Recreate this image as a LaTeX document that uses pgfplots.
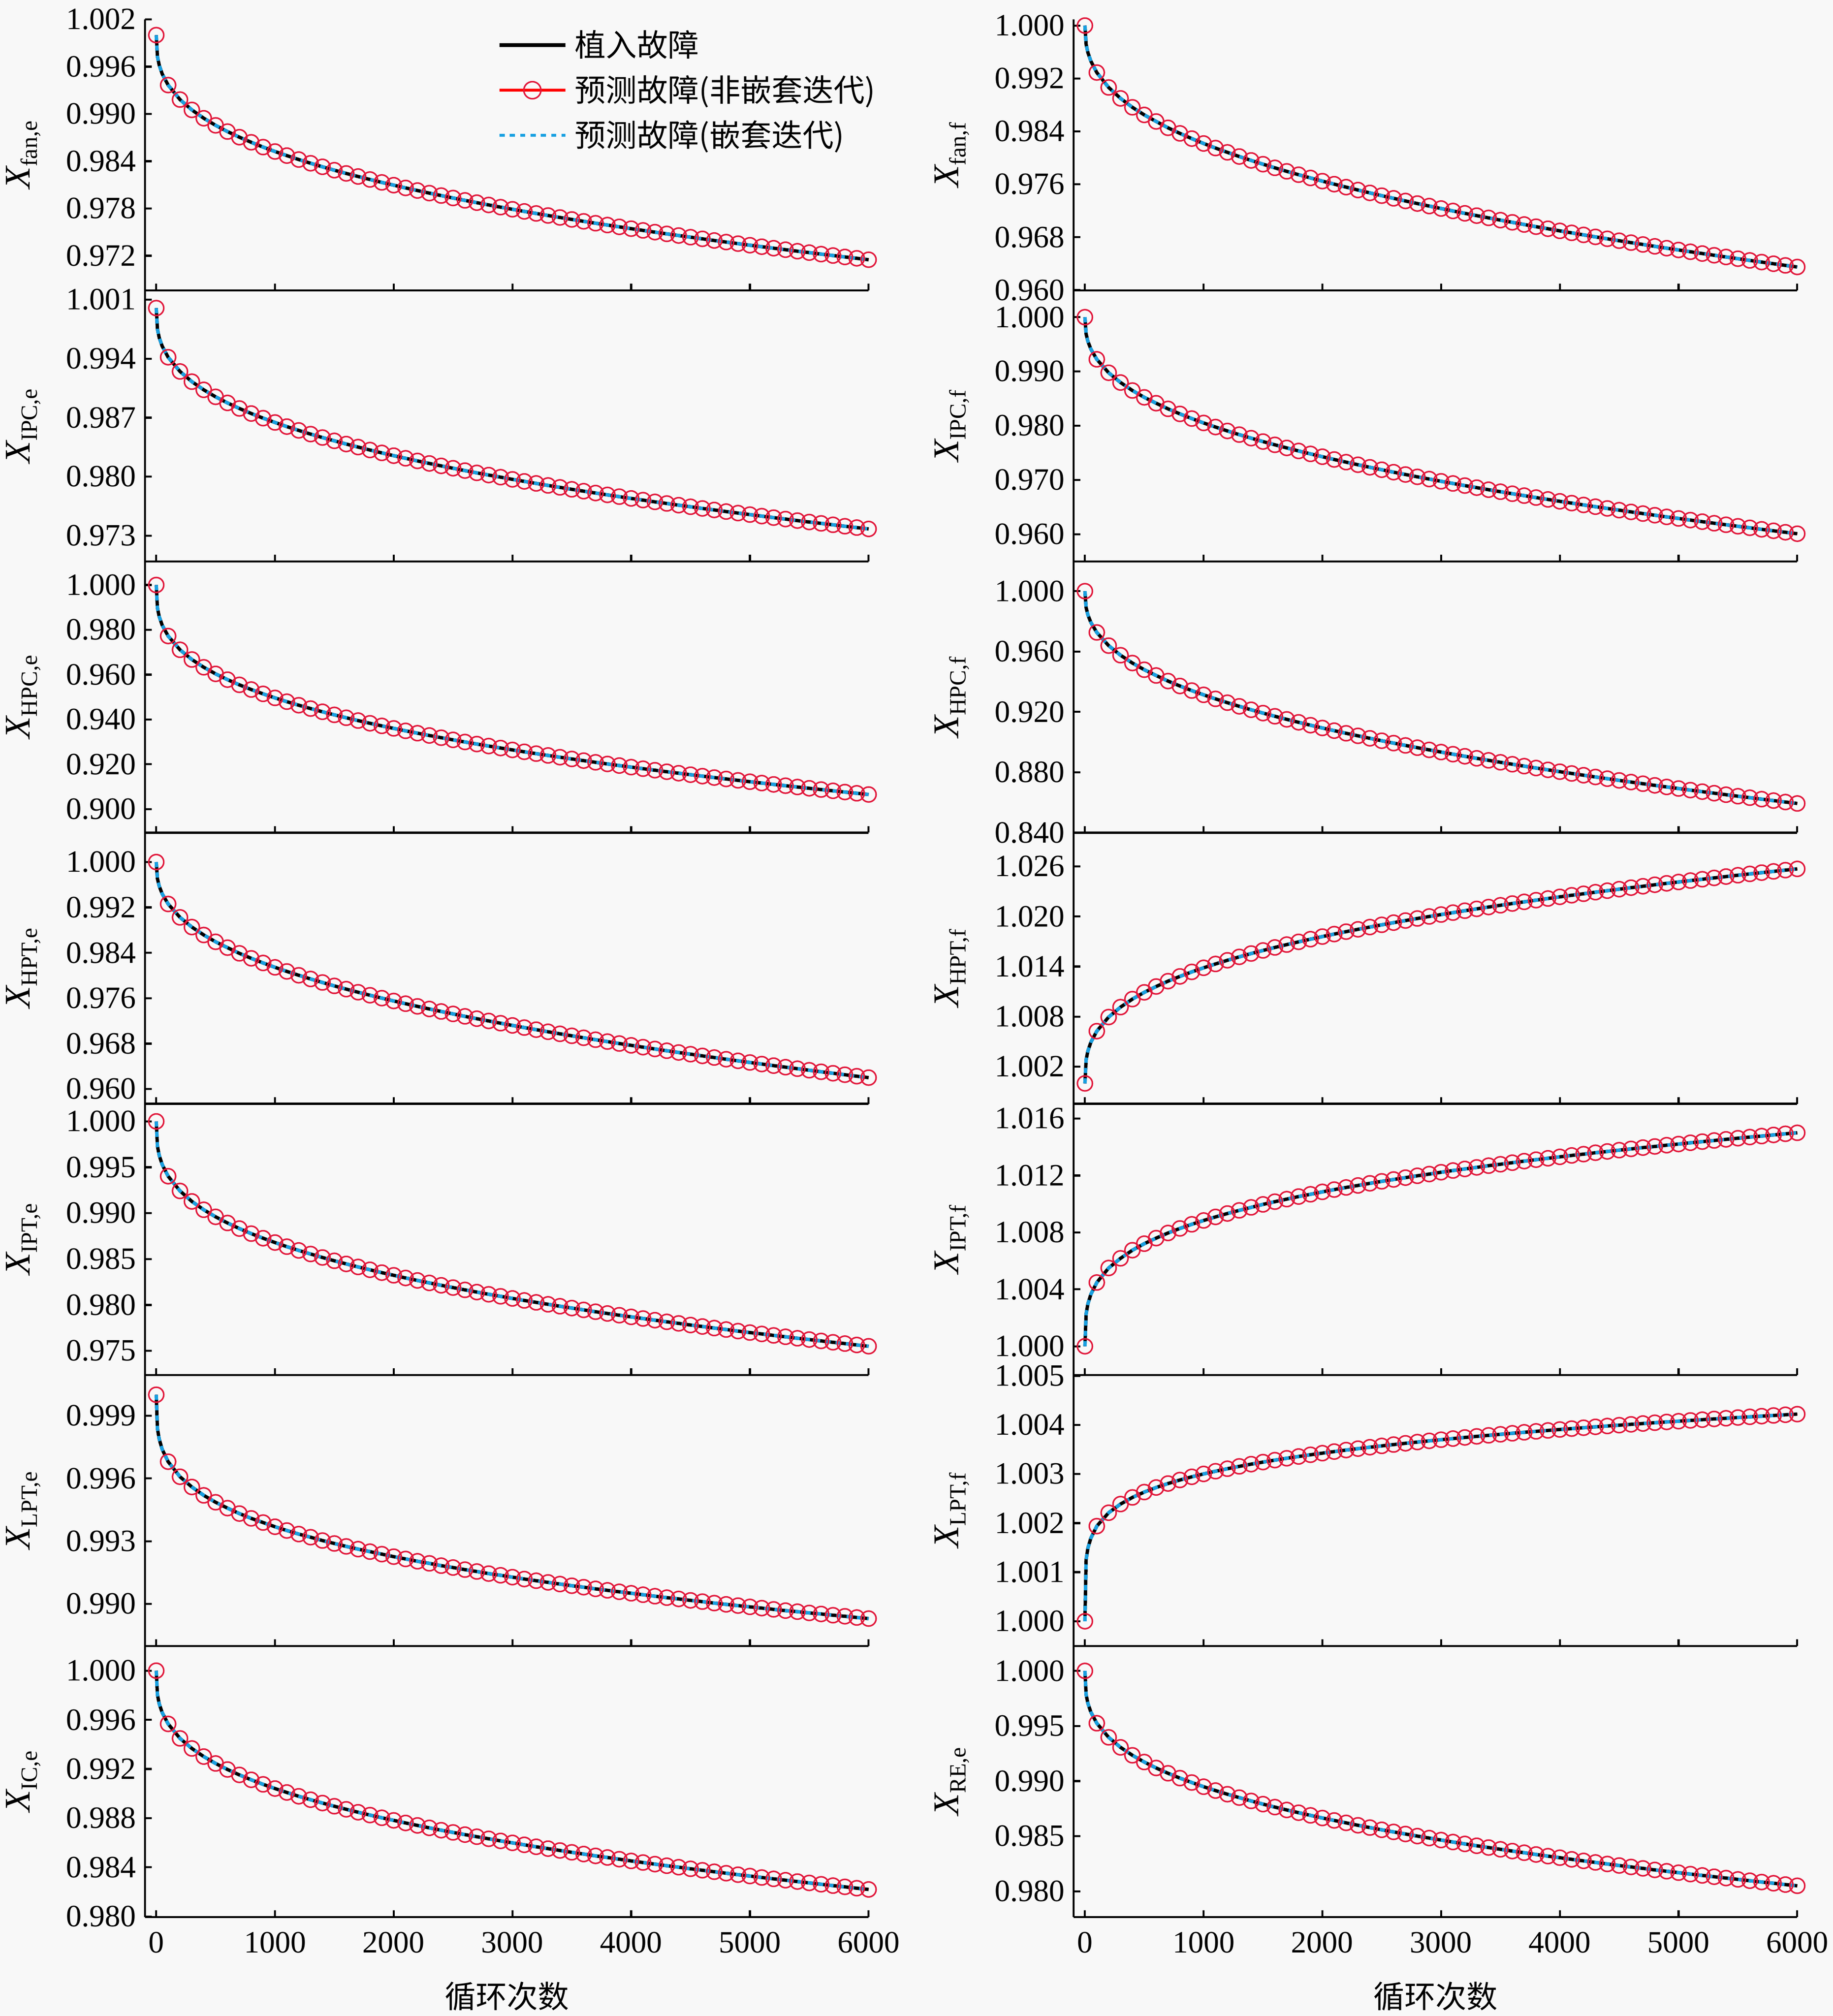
\documentclass[border=0pt]{standalone}
\usepackage{fontspec}
\setmainfont{Liberation Serif}
\newfontfamily\cjk{Noto Sans CJK SC}
\usepackage{pgfplots}
\usepackage{pgfplotstable}
\pgfplotsset{compat=1.18}
\definecolor{bg}{RGB}{248,248,248}
\definecolor{mred}{RGB}{225,25,60}
\definecolor{lred}{RGB}{255,0,0}
\definecolor{cyanline}{RGB}{25,160,225}

\pgfplotstableread{
x fe ipce hpce hpte ipte lpte ice ff ipcf hpcf hptf iptf lptf ree
0 1.0 1.0 1.0 1.0 1.0 1.0 1.0 1.0 1.0 1.0 1.0 1.0 1.0 1.0
10 0.99728 0.99750 0.98971 0.99706 0.99730 0.99838 0.99804 0.99717 0.99691 0.98911 1.00283 1.00227 1.001252 0.99785
25 0.99619 0.99649 0.98589 0.99576 0.99630 0.99788 0.99731 0.99592 0.99554 0.98429 1.00388 1.00298 1.001490 0.99706
50 0.99508 0.99548 0.98207 0.99440 0.99530 0.99739 0.99659 0.99462 0.99412 0.97927 1.00493 1.00365 1.001695 0.99626
100 0.99366 0.99417 0.97723 0.99261 0.99403 0.99680 0.99567 0.99290 0.99224 0.97264 1.00626 1.00448 1.001938 0.99525
200 0.99182 0.99248 0.97108 0.99025 0.99242 0.99608 0.99449 0.99064 0.98976 0.96390 1.00795 1.00550 1.002211 0.99397
300 0.99051 0.99127 0.96674 0.98854 0.99128 0.99559 0.99367 0.98899 0.98796 0.95755 1.00914 1.00618 1.002388 0.99306
400 0.98945 0.99030 0.96327 0.98714 0.99037 0.99519 0.99301 0.98764 0.98649 0.95237 1.01010 1.00675 1.002523 0.99234
500 0.98855 0.98947 0.96033 0.98594 0.98960 0.99486 0.99245 0.98649 0.98523 0.94793 1.01091 1.00721 1.002632 0.99173
600 0.98776 0.98875 0.95775 0.98491 0.98893 0.99458 0.99196 0.98550 0.98415 0.94411 1.01161 1.00760 1.002725 0.99119
700 0.98705 0.98809 0.95544 0.98391 0.98832 0.99432 0.99152 0.98454 0.98311 0.94042 1.01225 1.00796 1.002806 0.99071
800 0.98640 0.98749 0.95334 0.98303 0.98777 0.99409 0.99112 0.98370 0.98218 0.93716 1.01282 1.00828 1.002878 0.99027
900 0.98579 0.98694 0.95141 0.98221 0.98727 0.99389 0.99075 0.98291 0.98132 0.93412 1.01336 1.00857 1.002943 0.98987
1000 0.98523 0.98643 0.94961 0.98144 0.98680 0.99369 0.99041 0.98217 0.98051 0.93129 1.01385 1.00884 1.003002 0.98949
1100 0.98471 0.98594 0.94792 0.98072 0.98635 0.99351 0.99009 0.98148 0.97976 0.92862 1.01431 1.00909 1.003057 0.98914
1200 0.98421 0.98549 0.94634 0.98004 0.98594 0.99334 0.98978 0.98083 0.97904 0.92609 1.01475 1.00933 1.003108 0.98881
1300 0.98374 0.98505 0.94484 0.97939 0.98555 0.99319 0.98950 0.98020 0.97836 0.92368 1.01516 1.00955 1.003156 0.98850
1400 0.98329 0.98464 0.94341 0.97877 0.98517 0.99303 0.98923 0.97961 0.97771 0.92139 1.01556 1.00976 1.003201 0.98820
1500 0.98286 0.98425 0.94204 0.97817 0.98481 0.99289 0.98897 0.97904 0.97708 0.91919 1.01593 1.00997 1.003243 0.98791
1600 0.98245 0.98387 0.94074 0.97760 0.98447 0.99275 0.98872 0.97849 0.97648 0.91708 1.01629 1.01016 1.003283 0.98764
1700 0.98206 0.98351 0.93949 0.97705 0.98414 0.99262 0.98848 0.97796 0.97591 0.91504 1.01663 1.01034 1.003321 0.98738
1800 0.98168 0.98316 0.93828 0.97652 0.98383 0.99250 0.98825 0.97745 0.97535 0.91308 1.01696 1.01052 1.003357 0.98713
1900 0.98131 0.98282 0.93712 0.97601 0.98352 0.99238 0.98803 0.97696 0.97481 0.91117 1.01728 1.01068 1.003392 0.98689
2000 0.98096 0.98249 0.93600 0.97551 0.98323 0.99226 0.98782 0.97648 0.97429 0.90933 1.01759 1.01085 1.003425 0.98665
2100 0.98061 0.98218 0.93491 0.97503 0.98294 0.99215 0.98761 0.97602 0.97378 0.90755 1.01789 1.01101 1.003457 0.98643
2200 0.98028 0.98187 0.93386 0.97456 0.98267 0.99204 0.98741 0.97557 0.97329 0.90581 1.01818 1.01116 1.003488 0.98621
2300 0.97995 0.98157 0.93283 0.97410 0.98240 0.99194 0.98721 0.97513 0.97281 0.90412 1.01846 1.01130 1.003517 0.98599
2400 0.97964 0.98128 0.93184 0.97366 0.98214 0.99183 0.98702 0.97470 0.97234 0.90248 1.01873 1.01145 1.003546 0.98578
2500 0.97933 0.98100 0.93087 0.97323 0.98189 0.99174 0.98684 0.97428 0.97189 0.90087 1.01900 1.01159 1.003573 0.98558
2600 0.97903 0.98072 0.92993 0.97280 0.98164 0.99164 0.98666 0.97388 0.97144 0.89930 1.01926 1.01172 1.003600 0.98539
2700 0.97874 0.98045 0.92901 0.97239 0.98140 0.99155 0.98649 0.97348 0.97101 0.89777 1.01951 1.01185 1.003626 0.98520
2800 0.97845 0.98019 0.92812 0.97199 0.98116 0.99145 0.98632 0.97309 0.97058 0.89627 1.01976 1.01198 1.003651 0.98501
2900 0.97817 0.97994 0.92724 0.97159 0.98094 0.99137 0.98615 0.97271 0.97017 0.89481 1.02000 1.01210 1.003676 0.98483
3000 0.97790 0.97968 0.92639 0.97120 0.98071 0.99128 0.98599 0.97234 0.96976 0.89337 1.02023 1.01223 1.003699 0.98465
3100 0.97763 0.97944 0.92555 0.97082 0.98049 0.99119 0.98583 0.97197 0.96936 0.89196 1.02046 1.01235 1.003722 0.98447
3200 0.97737 0.97920 0.92473 0.97045 0.98028 0.99111 0.98567 0.97161 0.96897 0.89058 1.02069 1.01246 1.003745 0.98430
3300 0.97711 0.97896 0.92393 0.97008 0.98007 0.99103 0.98552 0.97126 0.96859 0.88922 1.02091 1.01257 1.003767 0.98413
3400 0.97686 0.97873 0.92314 0.96972 0.97986 0.99095 0.98537 0.97092 0.96821 0.88789 1.02113 1.01269 1.003788 0.98397
3500 0.97661 0.97850 0.92236 0.96937 0.97966 0.99087 0.98522 0.97058 0.96784 0.88659 1.02134 1.01279 1.003809 0.98381
3600 0.97637 0.97828 0.92161 0.96902 0.97946 0.99080 0.98508 0.97025 0.96747 0.88530 1.02155 1.01290 1.003830 0.98365
3700 0.97613 0.97806 0.92086 0.96868 0.97926 0.99072 0.98493 0.96992 0.96712 0.88404 1.02175 1.01301 1.003850 0.98350
3800 0.97590 0.97784 0.92013 0.96835 0.97907 0.99065 0.98480 0.96959 0.96676 0.88279 1.02195 1.01311 1.003869 0.98334
3900 0.97567 0.97763 0.91941 0.96801 0.97888 0.99058 0.98466 0.96928 0.96642 0.88157 1.02215 1.01321 1.003888 0.98319
4000 0.97544 0.97742 0.91871 0.96769 0.97870 0.99051 0.98452 0.96896 0.96607 0.88036 1.02235 1.01331 1.003907 0.98305
4100 0.97522 0.97722 0.91801 0.96737 0.97852 0.99044 0.98439 0.96866 0.96574 0.87918 1.02254 1.01341 1.003925 0.98290
4200 0.97500 0.97701 0.91733 0.96705 0.97834 0.99037 0.98426 0.96835 0.96540 0.87801 1.02272 1.01350 1.003943 0.98276
4300 0.97478 0.97682 0.91665 0.96674 0.97816 0.99030 0.98413 0.96805 0.96508 0.87685 1.02291 1.01360 1.003961 0.98262
4400 0.97457 0.97662 0.91599 0.96643 0.97799 0.99024 0.98401 0.96776 0.96476 0.87572 1.02309 1.01369 1.003978 0.98248
4500 0.97436 0.97643 0.91533 0.96613 0.97781 0.99017 0.98388 0.96747 0.96444 0.87459 1.02327 1.01378 1.003995 0.98234
4600 0.97415 0.97623 0.91469 0.96583 0.97765 0.99011 0.98376 0.96718 0.96412 0.87349 1.02345 1.01387 1.004012 0.98221
4700 0.97394 0.97605 0.91405 0.96554 0.97748 0.99004 0.98364 0.96690 0.96381 0.87239 1.02362 1.01396 1.004029 0.98208
4800 0.97374 0.97586 0.91343 0.96524 0.97732 0.98998 0.98352 0.96662 0.96351 0.87131 1.02380 1.01404 1.004045 0.98194
4900 0.97354 0.97568 0.91281 0.96496 0.97715 0.98992 0.98340 0.96634 0.96320 0.87025 1.02397 1.01413 1.004061 0.98182
5000 0.97334 0.97550 0.91220 0.96467 0.97699 0.98986 0.98329 0.96607 0.96291 0.86920 1.02413 1.01421 1.004076 0.98169
5100 0.97315 0.97532 0.91160 0.96439 0.97684 0.98980 0.98317 0.96580 0.96261 0.86815 1.02430 1.01430 1.004092 0.98156
5200 0.97296 0.97514 0.91100 0.96411 0.97668 0.98974 0.98306 0.96553 0.96232 0.86713 1.02446 1.01438 1.004107 0.98144
5300 0.97277 0.97497 0.91042 0.96384 0.97653 0.98968 0.98295 0.96527 0.96203 0.86611 1.02462 1.01446 1.004122 0.98132
5400 0.97258 0.97479 0.90984 0.96357 0.97637 0.98963 0.98284 0.96501 0.96175 0.86511 1.02478 1.01454 1.004136 0.98120
5500 0.97240 0.97462 0.90927 0.96330 0.97623 0.98957 0.98273 0.96475 0.96147 0.86411 1.02494 1.01462 1.004151 0.98108
5600 0.97221 0.97446 0.90870 0.96303 0.97608 0.98952 0.98262 0.96449 0.96119 0.86313 1.02510 1.01470 1.004165 0.98096
5700 0.97203 0.97429 0.90814 0.96277 0.97593 0.98946 0.98251 0.96424 0.96091 0.86216 1.02525 1.01477 1.004179 0.98084
5800 0.97185 0.97412 0.90759 0.96251 0.97579 0.98941 0.98241 0.96399 0.96064 0.86120 1.02540 1.01485 1.004193 0.98073
5900 0.97168 0.97396 0.90704 0.96225 0.97564 0.98935 0.98230 0.96374 0.96037 0.86024 1.02555 1.01493 1.004207 0.98061
6000 0.97150 0.97380 0.90650 0.96200 0.97550 0.98930 0.98220 0.96350 0.96010 0.85930 1.02570 1.01500 1.004220 0.98050
}\data

\pgfplotsset{
  panel/.style={
    anchor=south west, scale only axis, width=279.8pt, height=104.84pt,
    xmin=-95, xmax=6000,
    axis x line*=bottom, axis y line*=left,
    axis line style={-, line width=0.8pt, black},
    tick align=inside, major tick length=2.6pt,
    tick style={line width=0.8pt, black},
    xtick={0,1000,2000,3000,4000,5000,6000},
    xticklabels={},
    scaled y ticks=false,
    yticklabel style={/pgf/number format/.cd, fixed, fixed zerofill, precision=3},
    /pgf/number format/assume math mode=true,
    tick label style={font=\fontsize{12}{12}\selectfont},
    xticklabel style={yshift=-2.2pt},
    ylabel style={at={(axis description cs:-0.168,0.5)}, anchor=center},
    clip=false,
  },
  bottompanel/.style={
    xticklabels={0,1000,2000,3000,4000,5000,6000},
    xlabel={\cjk\fontsize{12}{12}\selectfont 循环次数},
    xlabel style={at={(axis description cs:0.5,-0.2919)}, anchor=center},
  },
  redpl/.style={lred, line width=1pt, mark=o, mark size=3.3pt, mark options={draw=mred, fill=white, solid, line width=0.6pt}},
  blkpl/.style={black, line width=1.3pt},
  cyapl/.style={cyanline, line width=1.3pt, dash pattern=on 2pt off 2pt},
}
\newcommand{\yl}[1]{{\fontsize{14}{14}\selectfont\itshape X}\raisebox{-2.8pt}{\fontsize{9}{9}\selectfont #1}}
\newcommand{\curves}[1]{%
  \addplot[lred, line width=0.8pt, forget plot] table[x=x,y=#1]{\data};
  \addplot[only marks, mark=o, mark size=2.9pt, mark options={draw=mred, line width=0.6pt}, skip coords between index={1}{4}, forget plot] table[x=x,y=#1]{\data};
  \addplot[blkpl, forget plot] table[x=x,y=#1]{\data};
  \addplot[cyapl, forget plot] table[x=x,y=#1]{\data};}

\begin{document}
\begin{tikzpicture}
\fill[bg] (0,0) rectangle (708.75pt,779.625pt);
\useasboundingbox (0,0) rectangle (708.75pt,779.625pt);

% ---------- left column ----------
\begin{axis}[panel, at={(56.06pt,667.29pt)}, ymin=0.9676, ymax=1.002,
  ytick={0.972,0.978,0.984,0.990,0.996,1.002}, ylabel={\yl{fan,e}},
  legend cell align=left,
  legend style={at={(axis description cs:0.4862,0.99)}, anchor=north west, draw=none, fill=none,
    inner sep=0pt, font=\cjk\fontsize{12}{12}\selectfont, nodes={inner sep=2.9pt}},
  legend image code/.code={\draw[mark repeat=2,mark phase=2,#1] plot coordinates {(0pt,0pt) (12.75pt,0pt) (25.5pt,0pt)};}]
\addlegendimage{blkpl, line width=1.6pt}
\addlegendentry{植入故障}
\addlegendimage{redpl}
\addlegendentry{预测故障(非嵌套迭代)}
\addlegendimage{cyapl}
\addlegendentry{预测故障(嵌套迭代)}
\curves{fe}
\end{axis}

\begin{axis}[panel, at={(56.06pt,562.45pt)}, ymin=0.96993, ymax=1.00209,
  ytick={0.973,0.980,0.987,0.994,1.001}, ylabel={\yl{IPC,e}}]
\curves{ipce}
\end{axis}

\begin{axis}[panel, at={(56.06pt,457.61pt)}, ymin=0.88946, ymax=1.01046,
  ytick={0.900,0.920,0.940,0.960,0.980,1.000}, ylabel={\yl{HPC,e}}]
\curves{hpce}
\end{axis}

\begin{axis}[panel, at={(56.06pt,352.77pt)}, ymin=0.95739, ymax=1.00518,
  ytick={0.960,0.968,0.976,0.984,0.992,1.000}, ylabel={\yl{HPT,e}}]
\curves{hpte}
\end{axis}

\begin{axis}[panel, at={(56.06pt,247.93pt)}, ymin=0.97238, ymax=1.00192,
  ytick={0.975,0.980,0.985,0.990,0.995,1.000}, ylabel={\yl{IPT,e}}]
\curves{ipte}
\end{axis}

\begin{axis}[panel, at={(56.06pt,143.09pt)}, ymin=0.98799, ymax=1.00095,
  ytick={0.990,0.993,0.996,0.999}, ylabel={\yl{LPT,e}}]
\curves{lpte}
\end{axis}

\begin{axis}[panel, bottompanel, at={(56.06pt,38.25pt)}, ymin=0.97995, ymax=1.00201,
  ytick={0.980,0.984,0.988,0.992,0.996,1.000}, ylabel={\yl{IC,e}}]
\curves{ice}
\end{axis}

% ---------- right column ----------
\begin{axis}[panel, at={(415.13pt,667.29pt)}, ymin=0.95995, ymax=1.00094,
  ytick={0.960,0.968,0.976,0.984,0.992,1.000}, ylabel={\yl{fan,f}}]
\curves{ff}
\end{axis}

\begin{axis}[panel, at={(415.13pt,562.45pt)}, ymin=0.95497, ymax=1.00493,
  ytick={0.960,0.970,0.980,0.990,1.000}, ylabel={\yl{IPC,f}}]
\curves{ipcf}
\end{axis}

\begin{axis}[panel, at={(415.13pt,457.61pt)}, ymin=0.83995, ymax=1.01962,
  ytick={0.840,0.880,0.920,0.960,1.000}, ylabel={\yl{HPC,f}}]
\curves{hpcf}
\end{axis}

\begin{axis}[panel, at={(415.13pt,352.77pt)}, ymin=0.99756, ymax=1.03004,
  ytick={1.002,1.008,1.014,1.020,1.026}, ylabel={\yl{HPT,f}}]
\curves{hptf}
\end{axis}

\begin{axis}[panel, at={(415.13pt,247.93pt)}, ymin=0.99799, ymax=1.01704,
  ytick={1.000,1.004,1.008,1.012,1.016}, ylabel={\yl{IPT,f}}]
\curves{iptf}
\end{axis}

\begin{axis}[panel, at={(415.13pt,143.09pt)}, ymin=0.999496, ymax=1.00502,
  ytick={1.000,1.001,1.002,1.003,1.004,1.005}, ylabel={\yl{LPT,f}}]
\curves{lptf}
\end{axis}

\begin{axis}[panel, bottompanel, at={(415.13pt,38.25pt)}, ymin=0.97766, ymax=1.00226,
  ytick={0.980,0.985,0.990,0.995,1.000}, ylabel={\yl{RE,e}}]
\curves{ree}
\end{axis}
\end{tikzpicture}
\end{document}
